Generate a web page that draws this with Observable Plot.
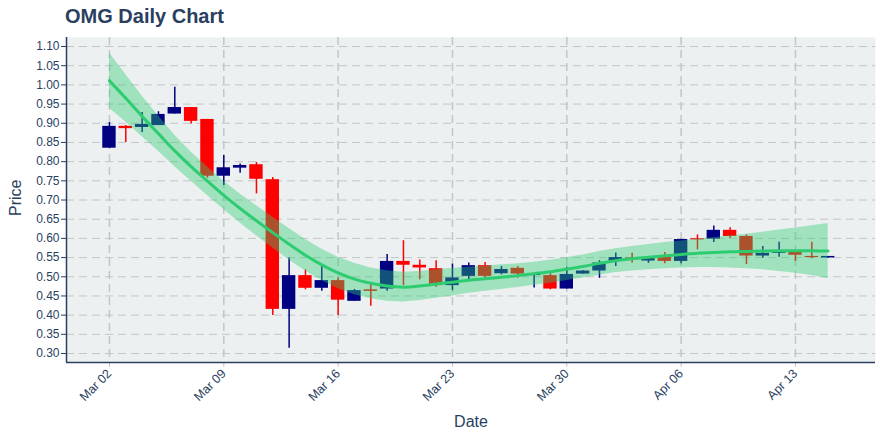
<!DOCTYPE html>
<html><head><meta charset="utf-8">
<script src="https://cdn.jsdelivr.net/npm/d3@7"></script>
<script src="https://cdn.jsdelivr.net/npm/@observablehq/plot@0.6"></script>
<style>
body{margin:0;background:#fff;font-family:"Liberation Sans",Arial,sans-serif;}
#title{height:36px;box-sizing:border-box;padding:6px 0 0 65px;font-size:20px;line-height:20px;font-weight:bold;color:#2a3f5f;}
#chart svg{display:block;}
</style></head><body>
<div id="title">OMG Daily Chart</div>
<div id="chart"></div>
<script>
const dates = ["2020-03-02","2020-03-03","2020-03-04","2020-03-05","2020-03-06","2020-03-07","2020-03-08","2020-03-09","2020-03-10","2020-03-11","2020-03-12","2020-03-13","2020-03-14","2020-03-15","2020-03-16","2020-03-17","2020-03-18","2020-03-19","2020-03-20","2020-03-21","2020-03-22","2020-03-23","2020-03-24","2020-03-25","2020-03-26","2020-03-27","2020-03-28","2020-03-29","2020-03-30","2020-03-31","2020-04-01","2020-04-02","2020-04-03","2020-04-04","2020-04-05","2020-04-06","2020-04-07","2020-04-08","2020-04-09","2020-04-10","2020-04-11","2020-04-12","2020-04-13","2020-04-14","2020-04-15"];
const open  = [0.835,0.892,0.889,0.894,0.924,0.941,0.910,0.762,0.783,0.792,0.753,0.415,0.503,0.470,0.490,0.436,0.466,0.468,0.540,0.530,0.521,0.477,0.501,0.529,0.508,0.522,0.503,0.503,0.468,0.507,0.515,0.540,0.549,0.541,0.551,0.540,0.599,0.598,0.621,0.605,0.554,0.561,0.566,0.553,0.549];
const high  = [0.902,0.894,0.928,0.930,0.994,0.941,0.910,0.816,0.794,0.798,0.759,0.549,0.518,0.527,0.497,0.467,0.482,0.558,0.594,0.544,0.542,0.533,0.536,0.537,0.527,0.527,0.508,0.508,0.525,0.516,0.542,0.562,0.561,0.551,0.563,0.598,0.609,0.632,0.628,0.609,0.579,0.590,0.567,0.590,0.553];
const low   = [0.835,0.850,0.876,0.894,0.924,0.898,0.757,0.738,0.770,0.716,0.399,0.314,0.466,0.462,0.399,0.436,0.423,0.462,0.477,0.492,0.473,0.464,0.493,0.490,0.505,0.496,0.471,0.466,0.468,0.507,0.496,0.527,0.536,0.535,0.534,0.534,0.570,0.589,0.600,0.532,0.548,0.551,0.540,0.547,0.548];
const close = [0.892,0.886,0.897,0.923,0.941,0.905,0.762,0.784,0.790,0.754,0.415,0.503,0.470,0.490,0.439,0.464,0.462,0.540,0.530,0.523,0.477,0.497,0.529,0.501,0.519,0.507,0.507,0.468,0.506,0.515,0.536,0.550,0.544,0.548,0.540,0.597,0.596,0.621,0.605,0.554,0.561,0.567,0.556,0.550,0.553];
const fit   = [1.011,0.965,0.918,0.873,0.828,0.787,0.749,0.712,0.678,0.646,0.615,0.585,0.556,0.531,0.510,0.494,0.483,0.476,0.473,0.476,0.481,0.486,0.491,0.495,0.499,0.503,0.508,0.513,0.520,0.527,0.535,0.542,0.547,0.551,0.555,0.558,0.561,0.563,0.565,0.566,0.567,0.568,0.568,0.568,0.567];
const bandHalf = [0.072,0.062,0.053,0.046,0.041,0.038,0.037,0.037,0.038,0.039,0.040,0.041,0.041,0.041,0.041,0.041,0.040,0.040,0.039,0.038,0.037,0.036,0.034,0.033,0.032,0.031,0.030,0.030,0.030,0.030,0.031,0.031,0.032,0.033,0.034,0.035,0.037,0.039,0.042,0.045,0.049,0.054,0.059,0.065,0.072];
const yTicks = [0.30,0.35,0.40,0.45,0.50,0.55,0.60,0.65,0.70,0.75,0.80,0.85,0.90,0.95,1.00,1.05,1.10];
const xTickDates = ["2020-03-02","2020-03-09","2020-03-16","2020-03-23","2020-03-30","2020-04-06","2020-04-13"];

const DAY = 864e5;
const rows = dates.map((d, i) => ({
  date: new Date(d), open: open[i], high: high[i], low: low[i], close: close[i],
  fit: fit[i], lo: fit[i] - bandHalf[i], hi: fit[i] + bandHalf[i]
}));
const xTicks = xTickDates.map(d => new Date(d));
const t0 = new Date(dates[0]);
const xDomain = [new Date(+t0 - 2.63 * DAY), new Date(+t0 + 46.9 * DAY)];
const yDomain = [0.2766, 1.1235];
const candleColor = d => d.close >= d.open ? "#000080" : "#ff0000";
const ink = "#2a3f5f";
const gridStroke = "#c3c6c8";

const chart = Plot.plot({
  width: 880, height: 404,
  marginLeft: 66, marginRight: 5, marginTop: 1, marginBottom: 78,
  style: {background: "#fff", fontFamily: '"Liberation Sans", Arial, sans-serif', fontSize: "12px", color: ink},
  x: {type: "utc", domain: xDomain},
  y: {domain: yDomain},
  marks: [
    Plot.frame({fill: "#ecf0f1", stroke: null}),
    Plot.gridY(yTicks, {stroke: gridStroke, strokeOpacity: 1, strokeDasharray: "8,5", strokeWidth: 1}),
    Plot.gridX(xTicks, {stroke: gridStroke, strokeOpacity: 1, strokeDasharray: "8,5", strokeWidth: 1.5}),
    Plot.ruleX(rows, {x: "date", y1: "low", y2: "high", stroke: candleColor, strokeWidth: 1.5}),
    Plot.rect(rows, {
      x1: d => new Date(+d.date - 0.41 * DAY), x2: d => new Date(+d.date + 0.41 * DAY),
      y1: "open", y2: "close", fill: candleColor
    }),
    Plot.areaY(rows, {x: "date", y1: "lo", y2: "hi", fill: "#2ecc71", fillOpacity: 0.4, curve: "linear"}),
    Plot.line(rows, {x: "date", y: "fit", stroke: "#2ecc71", strokeWidth: 3, curve: "catmull-rom"}),
    Plot.axisY(yTicks, {tickFormat: d3.format(".2f"), tickSize: 5, tickPadding: 2, stroke: ink, fill: ink, label: null, fontSize: 12}),
    Plot.axisX(xTicks, {tickFormat: d3.utcFormat("%b %d"), tickRotate: -45, tickSize: 5, tickPadding: 4, stroke: "#c3c6c8", fill: ink, label: null, fontSize: 12.5}),
    Plot.ruleX([xDomain[0]], {stroke: ink, strokeWidth: 1.5}),
    Plot.ruleY([yDomain[0]], {stroke: ink, strokeWidth: 1.5}),
    Plot.text(["Price"], {frameAnchor: "left", dx: -51, dy: 16, rotate: -90, fontSize: 16, fill: ink}),
    Plot.text(["Date"], {frameAnchor: "bottom", dy: 64, fontSize: 16, fill: ink})
  ]
});
document.getElementById("chart").appendChild(chart);
</script>
</body></html>
